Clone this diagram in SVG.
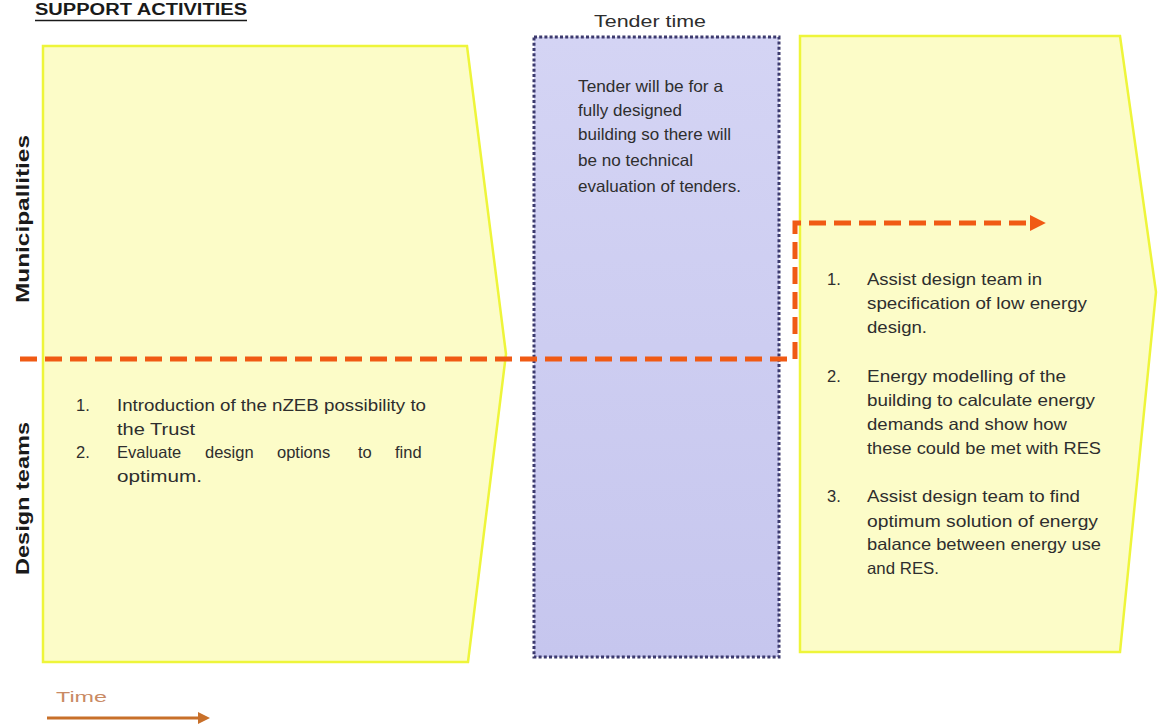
<svg xmlns="http://www.w3.org/2000/svg" width="1158" height="724" viewBox="0 0 1158 724">
  <style>
    .chev { fill: #fcfcc8; stroke: #eef53a; stroke-width: 2.5; stroke-linejoin: miter; }
    .tender { fill: url(#lav); stroke: #3c3a6e; stroke-width: 3; stroke-dasharray: 3 2.2; }
    .body { font-family: "Liberation Sans", Arial, sans-serif; font-size: 16.5px; fill: #2e2e2e; }
    .lane { font-family: "Liberation Sans", Arial, sans-serif; font-size: 18px; font-weight: bold; fill: #1a1a1a; }
    .head { font-family: "Liberation Sans", Arial, sans-serif; font-size: 16px; font-weight: bold; fill: #1a1a1a; }
    .flow { fill: none; stroke: #f05a14; stroke-width: 5; stroke-dasharray: 17 8; }
    .time { fill: none; stroke: #c8702a; stroke-width: 3; }
  </style>
  <defs>
    <linearGradient id="lav" x1="0" y1="0" x2="0" y2="1">
      <stop offset="0" stop-color="#d4d4f4"/>
      <stop offset="1" stop-color="#c6c6ee"/>
    </linearGradient>
    <marker id="flowHead" viewBox="0 0 10 10" refX="2" refY="5" markerWidth="3.2" markerHeight="3.2" orient="auto" markerUnits="strokeWidth">
      <path d="M0,0 L10,5 L0,10 Z" fill="#f05a14"/>
    </marker>
    <marker id="timeHead" viewBox="0 0 10 10" refX="5" refY="5" markerWidth="4" markerHeight="4" orient="auto" markerUnits="strokeWidth">
      <path d="M0,0 L10,5 L0,10 Z" fill="#c8702a"/>
    </marker>
  </defs>

  <rect width="1158" height="724" fill="#ffffff"/>

  <!-- heading -->
  <g id="heading">
    <text class="head" x="35" y="15" textLength="212" lengthAdjust="spacingAndGlyphs">SUPPORT ACTIVITIES</text>
    <line x1="35" y1="20.5" x2="247" y2="20.5" stroke="#1a1a1a" stroke-width="1.5"/>
  </g>

  <!-- swim-lane labels -->
  <g id="lane-municipalities">
    <text class="lane" transform="translate(29,303) rotate(-90)" textLength="168" lengthAdjust="spacingAndGlyphs">Municipallities</text>
  </g>
  <g id="lane-design-teams">
    <text class="lane" transform="translate(29,575) rotate(-90)" textLength="153" lengthAdjust="spacingAndGlyphs">Design teams</text>
  </g>

  <!-- stage 1: design phase -->
  <g id="stage-design">
    <path class="chev" d="M43,46 L467,46 L506,354 L468,662 L43,662 Z"/>
    <text class="body" x="76" y="411">1.</text>
    <text class="body" x="117" y="411" textLength="309" lengthAdjust="spacingAndGlyphs">Introduction of the nZEB possibility to</text>
    <text class="body" x="117" y="435" textLength="78" lengthAdjust="spacingAndGlyphs">the Trust</text>
    <text class="body" x="76" y="458">2.</text>
    <text class="body" y="458">
      <tspan x="117">Evaluate</tspan>
      <tspan x="205">design</tspan>
      <tspan x="277">options</tspan>
      <tspan x="358">to</tspan>
      <tspan x="395">find</tspan>
    </text>
    <text class="body" x="117" y="482" textLength="85" lengthAdjust="spacingAndGlyphs">optimum.</text>
  </g>

  <!-- stage 2: tender -->
  <g id="stage-tender">
    <text class="body" x="594" y="27" font-size="18" textLength="112" lengthAdjust="spacingAndGlyphs">Tender time</text>
    <rect class="tender" x="534" y="37" width="245" height="620"/>
    <text class="body" x="578" y="92" textLength="145" lengthAdjust="spacingAndGlyphs">Tender will be for a</text>
    <text class="body" x="578" y="116" textLength="104" lengthAdjust="spacingAndGlyphs">fully designed</text>
    <text class="body" x="578" y="140" textLength="153" lengthAdjust="spacingAndGlyphs">building so there will</text>
    <text class="body" x="578" y="166" textLength="115" lengthAdjust="spacingAndGlyphs">be no technical</text>
    <text class="body" x="578" y="192" textLength="163" lengthAdjust="spacingAndGlyphs">evaluation of tenders.</text>
  </g>

  <!-- stage 3: construction support -->
  <g id="stage-construction">
    <path class="chev" d="M800,36 L1120,36 L1156,292 L1120,652 L800,652 Z"/>
    <text class="body" x="827" y="285">1.</text>
    <text class="body" x="867" y="285" textLength="175" lengthAdjust="spacingAndGlyphs">Assist design team in</text>
    <text class="body" x="867" y="309" textLength="220" lengthAdjust="spacingAndGlyphs">specification of low energy</text>
    <text class="body" x="867" y="333" textLength="60" lengthAdjust="spacingAndGlyphs">design.</text>
    <text class="body" x="827" y="382">2.</text>
    <text class="body" x="867" y="382" textLength="199" lengthAdjust="spacingAndGlyphs">Energy modelling of the</text>
    <text class="body" x="867" y="406" textLength="228" lengthAdjust="spacingAndGlyphs">building to calculate energy</text>
    <text class="body" x="867" y="430" textLength="200" lengthAdjust="spacingAndGlyphs">demands and show how</text>
    <text class="body" x="867" y="454" textLength="234" lengthAdjust="spacingAndGlyphs">these could be met with RES</text>
    <text class="body" x="827" y="502">3.</text>
    <text class="body" x="867" y="502" textLength="213" lengthAdjust="spacingAndGlyphs">Assist design team to find</text>
    <text class="body" x="867" y="527" textLength="231" lengthAdjust="spacingAndGlyphs">optimum solution of energy</text>
    <text class="body" x="867" y="550" textLength="234" lengthAdjust="spacingAndGlyphs">balance between energy use</text>
    <text class="body" x="867" y="574" textLength="72" lengthAdjust="spacingAndGlyphs">and RES.</text>
  </g>

  <!-- time legend -->
  <g id="time-legend">
    <text x="56" y="702" font-family="'Liberation Sans', Arial, sans-serif" font-size="15" fill="#c98a64" textLength="51" lengthAdjust="spacingAndGlyphs">Time</text>
  </g>

  <!-- connectors -->
  <g id="connectors">
    <path class="flow" d="M20,359 H795 V223 H1033" marker-end="url(#flowHead)"/>
    <path class="time" d="M47,718 H204" marker-end="url(#timeHead)"/>
  </g>
</svg>
